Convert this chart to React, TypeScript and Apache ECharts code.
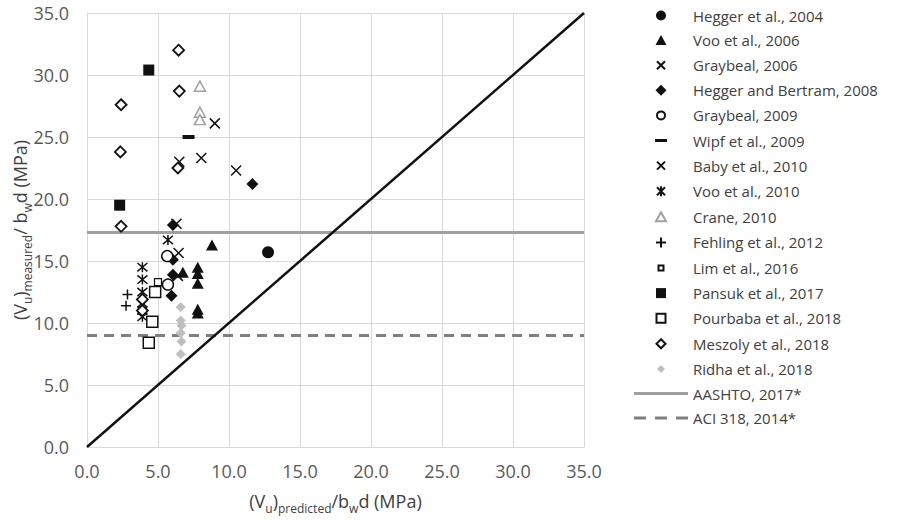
import React, { useEffect, useRef } from "react";
import * as echarts from "echarts";

const hegger2004: number[][] = [[12.75, 15.7]];
const voo2006: number[][] = [[8.8, 16.3], [6.75, 14.1], [7.8, 14.5], [7.8, 14.0], [7.8, 13.2], [7.8, 11.1], [7.8, 10.8]];
const graybeal2006: number[][] = [[6.5, 23.0], [6.3, 18.0], [6.45, 15.65], [6.4, 13.8]];
const heggerBertram2008: number[][] = [[11.65, 21.2], [6.05, 17.9], [6.05, 15.1], [6.05, 13.9], [5.95, 12.2]];
const graybeal2009: number[][] = [[5.65, 15.4], [5.7, 13.1]];
const wipf2009: number[][] = [[7.15, 25.0]];
const baby2010: number[][] = [[9.0, 26.1], [8.05, 23.3], [10.5, 22.3]];
const voo2010: number[][] = [[5.7, 16.7], [3.9, 14.5], [3.9, 13.5], [3.9, 12.5], [3.9, 11.6], [3.9, 11.0], [3.9, 10.5]];
const crane2010: number[][] = [[7.95, 29.1], [7.95, 27.0], [7.95, 26.4]];
const fehling2012: number[][] = [[2.85, 12.3], [2.75, 11.4]];
const lim2016: number[][] = [[5.0, 13.3]];
const pansuk2017: number[][] = [[4.35, 30.4], [2.3, 19.5]];
const pourbaba2018: number[][] = [[4.8, 12.5], [4.6, 10.1], [4.35, 8.4]];
const meszoly2018: number[][] = [[6.45, 32.0], [6.5, 28.7], [2.4, 27.6], [2.35, 23.8], [6.4, 22.5], [2.4, 17.8], [3.9, 11.9], [3.9, 11.0]];
const ridha2018: number[][] = [[6.6, 11.3], [6.6, 10.2], [6.65, 9.8], [6.6, 9.2], [6.65, 8.5], [6.6, 7.5]];
const aashtoValue = 17.3;
const aciValue = 9.0;
const axisMin = 0;
const axisMax = 35;
const axisStep = 5;

const X_PATH = "path://M0,0L10,10M10,0L0,10";
const PLUS_PATH = "path://M5,0L5,10M0,5L10,5";
const AST_PATH = "path://M0,0L10,10M10,0L0,10M5,-1L5,11";

// legend icons: 54x14 box fixed by the two leading moveTo points
const BOX = "path://M0,0M54,14";
const ICON = {
  circle: BOX + "M22,7A5,5,0,1,1,32,7A5,5,0,1,1,22,7Z",
  openCircle: BOX + "M23,7A4,4,0,1,1,31,7A4,4,0,1,1,23,7Z",
  triangle: BOX + "M27,2L32.5,12L21.5,12Z",
  openTriangle: BOX + "M27,2.5L32,11.5L22,11.5Z",
  cross: BOX + "M23,3L31,11M31,3L23,11",
  diamond: BOX + "M27,1.5L32.5,7L27,12.5L21.5,7Z",
  openDiamond: BOX + "M27,2.5L31.5,7L27,11.5L22.5,7Z",
  smallDiamond: BOX + "M27,3L31,7L27,11L23,7Z",
  dash: BOX + "M21,5.5L33,5.5L33,8.5L21,8.5Z",
  asterisk: BOX + "M23,3L31,11M31,3L23,11M27,2L27,12",
  plus: BOX + "M22,7L32,7M27,2L27,12",
  smallSquare: BOX + "M24.5,4.5L29.5,4.5L29.5,9.5L24.5,9.5Z",
  square: BOX + "M22,2L32,2L32,12L22,12Z",
  openSquare: BOX + "M22.5,2.5L31.5,2.5L31.5,11.5L22.5,11.5Z",
  line: BOX + "M0,5.5L54,5.5L54,8.5L0,8.5Z",
  dashed: BOX + "M0,5.5L12,5.5L12,8.5L0,8.5ZM21,5.5L33,5.5L33,8.5L21,8.5ZM42,5.5L54,5.5L54,8.5L42,8.5Z",
};

export default function App() {
  const ref = useRef<HTMLDivElement>(null);
  useEffect(() => {
    if (!ref.current) return;
    const chart = echarts.init(ref.current, null, { renderer: "svg" });
    const font = "Open Sans";
    const scatter = (name: string, data: number[][], symbol: string, size: any, itemStyle: any) => ({
      name,
      type: "scatter",
      data,
      symbol,
      symbolSize: size,
      itemStyle: { opacity: 1, ...itemStyle },
      z: 5,
    });
    const filled = (c: string) => ({ color: c });
    const open = (c: string, w = 1.5) => ({ color: "#ffffff", borderColor: c, borderWidth: w });
    const stroke = (c: string, w = 1.5) => ({ color: "transparent", borderColor: c, borderWidth: w });
    const black = "#111111";
    const series: any[] = [
      scatter("Hegger et al., 2004", hegger2004, "circle", 12, filled(black)),
      scatter("Voo et al., 2006", voo2006, "triangle", [12, 11], filled(black)),
      scatter("Graybeal, 2006", graybeal2006, X_PATH, 10, stroke(black)),
      scatter("Hegger and Bertram, 2008", heggerBertram2008, "diamond", 12, filled(black)),
      scatter("Graybeal, 2009", graybeal2009, "circle", 11, open(black)),
      scatter("Wipf et al., 2009", wipf2009, "rect", [12, 4], filled(black)),
      scatter("Baby et al., 2010", baby2010, X_PATH, 10, stroke(black)),
      scatter("Voo et al., 2010", voo2010, AST_PATH, 10, stroke(black)),
      scatter("Crane, 2010", crane2010, "triangle", [11, 10], open("#a0a0a0")),
      scatter("Fehling et al., 2012", fehling2012, PLUS_PATH, 10, stroke(black)),
      scatter("Lim et al., 2016", lim2016, "rect", 7, open(black, 1.2)),
      scatter("Pansuk et al., 2017", pansuk2017, "rect", 11, filled(black)),
      scatter("Pourbaba et al., 2018", pourbaba2018, "rect", 11, open(black)),
      scatter("Meszoly et al., 2018", meszoly2018, "diamond", 11, open(black, 1.8)),
      scatter("Ridha et al., 2018", ridha2018, "diamond", 10, filled("#bfbfbf")),
      {
        name: "AASHTO, 2017*",
        type: "line",
        data: [[axisMin, aashtoValue], [axisMax, aashtoValue]],
        symbol: "none",
        lineStyle: { color: "#a0a0a0", width: 3, type: "solid" },
        itemStyle: { color: "#a0a0a0" },
        z: 3,
      },
      {
        name: "ACI 318, 2014*",
        type: "line",
        data: [[axisMin, aciValue], [axisMax, aciValue]],
        symbol: "none",
        lineStyle: { color: "#808080", width: 3, type: [10, 7] },
        itemStyle: { color: "#808080" },
        z: 3,
      },
      {
        name: "1:1",
        type: "line",
        data: [[axisMin, axisMin], [axisMax, axisMax]],
        symbol: "none",
        lineStyle: { color: black, width: 2.5 },
        z: 4,
      },
    ];
    const icons = [
      ICON.circle, ICON.triangle, ICON.cross, ICON.diamond, ICON.openCircle, ICON.dash, ICON.cross,
      ICON.asterisk, ICON.openTriangle, ICON.plus, ICON.smallSquare, ICON.square, ICON.openSquare,
      ICON.openDiamond, ICON.smallDiamond, ICON.line, ICON.dashed,
    ];
    const legendData = series
      .filter((s) => s.name !== "1:1")
      .map((s, i) => ({ name: s.name, icon: icons[i] }));
    const sub = { fontSize: 12, verticalAlign: "bottom", padding: [0, 0, -4, 0], fontFamily: font, color: "#404040" };
    const main = { fontSize: 18, fontFamily: font, color: "#404040" };
    chart.setOption({
      animation: false,
      backgroundColor: "#ffffff",
      grid: { left: 87, right: 334, top: 13, bottom: 73, containLabel: false, outerBoundsMode: "none" },
      legend: {
        data: legendData,
        orient: "vertical",
        left: 633,
        top: 8,
        padding: 0,
        itemWidth: 54,
        itemHeight: 14,
        itemGap: 9.6,
        symbolKeepAspect: true,
        textStyle: { fontFamily: font, fontSize: 15, color: "#404040" },
        selectedMode: false,
      },
      xAxis: {
        type: "value",
        min: axisMin,
        max: axisMax,
        interval: axisStep,
        axisLine: { show: true, lineStyle: { color: "#d9d9d9", width: 1 } },
        axisTick: { show: false },
        splitLine: { lineStyle: { color: "#d9d9d9", width: 1 } },
        axisLabel: { formatter: (v: number) => v.toFixed(1), fontFamily: font, fontSize: 18, color: "#595959", margin: 15 },
        name: "{m|(V}{s|u}{m|)}{s|predicted}{m|/b}{s|w}{m|d (MPa)}",
        nameLocation: "middle",
        nameGap: 45,
        nameMoveOverlap: false,
        nameTextStyle: { rich: { m: main, s: sub } },
      },
      yAxis: {
        type: "value",
        min: axisMin,
        max: axisMax,
        interval: axisStep,
        axisLine: { show: true, lineStyle: { color: "#d9d9d9", width: 1 } },
        axisTick: { show: false },
        splitLine: { lineStyle: { color: "#d9d9d9", width: 1 } },
        axisLabel: { formatter: (v: number) => v.toFixed(1), fontFamily: font, fontSize: 18, color: "#595959", margin: 18 },
        name: "{m|(V}{s|u}{m|)}{s|measured}{m|/ b}{s|w}{m|d (MPa)}",
        nameLocation: "middle",
        nameGap: 58,
        nameMoveOverlap: false,
        nameTextStyle: { rich: { m: main, s: sub } },
      },
      series,
    });
    return () => chart.dispose();
  }, []);
  return <div ref={ref} style={{ width: 918, height: 520, position: "absolute", left: 0, top: 0 }} />;
}
